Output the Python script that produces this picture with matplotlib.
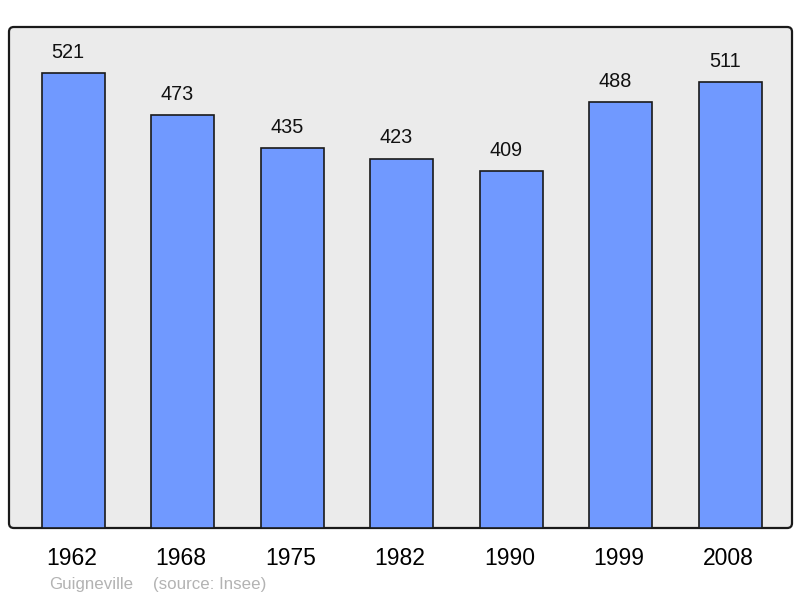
import matplotlib
matplotlib.use("Agg")
import matplotlib.pyplot as plt
from matplotlib.patches import FancyBboxPatch
from matplotlib.transforms import ScaledTranslation

# population by census year
years = ["1962", "1968", "1975", "1982", "1990", "1999", "2008"]
population = [521, 473, 435, 423, 409, 488, 511]
town = "Guigneville"
source = "(source: Insee)"

plt.rcParams['font.family'] = ['Liberation Sans', 'DejaVu Sans']

fig = plt.figure(figsize=(8, 5.98), dpi=100)
ax = fig.add_axes([9/800, 70/598, 783/800, 501/598])
ax.set_facecolor("none")
ax.set_zorder(2)

# rounded grey frame behind the axes
frame = FancyBboxPatch((9/800, 70/598), 783/800, 501/598,
                       boxstyle="round,pad=0,rounding_size=0.006",
                       mutation_aspect=800/598,
                       transform=fig.transFigure, facecolor="#ebebeb",
                       edgecolor="#1a1a1a", linewidth=1.6, zorder=-1)
fig.patches.append(frame)

x = list(range(len(years)))
bars = ax.bar(x, population, width=0.575, color="#7099ff",
              edgecolor="#1a1a1a", linewidth=1.2, zorder=2)

#value labels sit a little left of the bar centres in the original
for xi, val in zip(x, population):
    ax.annotate(str(val), (xi, val), xytext=(-3.8, 15), textcoords="offset points",
                ha="center", va="center", fontsize=14.3, color="#111111")

ax.set_xlim(-0.585, 6.565)
ax.set_ylim(0, 574)
ax.set_yticks([])
ax.set_xticks(x)
ax.set_xticklabels(years, fontsize=16.5)
ax.tick_params(axis="x", length=0, pad=14)
shift = ScaledTranslation(-1.5/100, 0, fig.dpi_scale_trans)
for lbl in ax.get_xticklabels():
    lbl.set_transform(lbl.get_transform() + shift)
for s in ax.spines.values():
    s.set_visible(False)

fig.text(49/800, 1 - 584/598, town, fontsize=12.2, color="#b3b3b3", va="center")
fig.text(153/800, 1 - 584/598, source, fontsize=12.2, color="#b3b3b3", va="center")

fig.savefig("out.png", dpi=100)
